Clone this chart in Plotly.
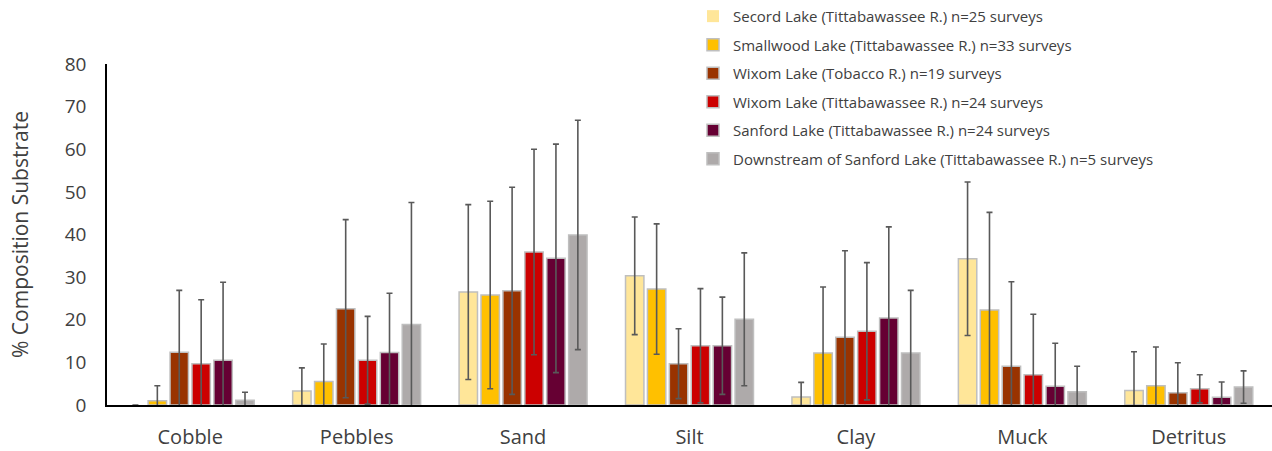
import plotly.graph_objects as go

categories = ["Cobble", "Pebbles", "Sand", "Silt", "Clay", "Muck", "Detritus"]

series_names = [
    "Secord Lake (Tittabawassee R.) n=25 surveys",
    "Smallwood Lake (Tittabawassee R.) n=33 surveys",
    "Wixom Lake (Tobacco R.) n=19 surveys",
    "Wixom Lake (Tittabawassee R.) n=24 surveys",
    "Sanford Lake (Tittabawassee R.) n=24 surveys",
    "Downstream of Sanford Lake (Tittabawassee R.) n=5 surveys",
]

secord = [0, 3.3, 26.5, 30.3, 1.9, 34.3, 3.4]
smallwood = [1.0, 5.5, 25.8, 27.2, 12.2, 22.3, 4.5]
wixom_tobacco = [12.4, 22.6, 26.8, 9.7, 15.9, 9.1, 2.9]
wixom_titt = [9.7, 10.5, 35.9, 13.9, 17.3, 7.1, 3.8]
sanford = [10.5, 12.3, 34.4, 13.9, 20.4, 4.4, 1.8]
downstream = [1.1, 18.9, 39.9, 20.1, 12.2, 3.1, 4.2]

secord_err = [None, 5.4, 20.5, 13.8, 3.4, 18.0, 9.1]
smallwood_err = [3.5, 8.8, 22.0, 15.3, 15.5, 22.9, 9.1]
wixom_tobacco_err = [14.5, 20.9, 24.3, 8.2, 20.3, 19.8, 7.0]
wixom_titt_err = [15.0, 10.3, 24.1, 13.4, 16.1, 14.2, 3.3]
sanford_err = [18.3, 13.9, 26.8, 11.4, 21.4, 10.1, 3.6]
downstream_err = [1.9, 28.6, 26.9, 15.6, 14.7, 6.0, 3.8]

values = [secord, smallwood, wixom_tobacco, wixom_titt, sanford, downstream]
errors = [secord_err, smallwood_err, wixom_tobacco_err, wixom_titt_err, sanford_err, downstream_err]
colors = ["#FFE699", "#FFC000", "#993300", "#CC0000", "#660033", "#AEAAAA"]

FONT = "Open Sans"
TXT = "#404040"

fig = go.Figure()
for i, (name, vals, errs, col) in enumerate(zip(series_names, values, errors, colors)):
    line_w = [0 if v == 0 else 1.5 for v in vals]
    fig.add_trace(go.Bar(
        x=categories, y=vals, name=name,
        marker=dict(color=col, line=dict(color="#BFBFBF", width=line_w)),
        error_y=dict(type="data", array=errs, symmetric=True, color="#595959",
                     thickness=1.6, width=3),
        legendgroup=f"g{i}",
    ))

fig.update_layout(
    width=1272, height=451,
    margin=dict(l=107, r=0, t=64, b=46, autoexpand=False),
    paper_bgcolor="white", plot_bgcolor="white",
    barmode="group", bargap=0.21, bargroupgap=0.16,
    font=dict(family=FONT, color=TXT),
    legend=dict(
        x=0.503, y=1.188, xanchor="left", yanchor="top",
        traceorder="grouped", tracegroupgap=6,
        font=dict(family=FONT, size=15, color=TXT),
        bgcolor="rgba(0,0,0,0)",
    ),
    showlegend=True,
)
fig.update_yaxes(
    range=[0, 80], dtick=10, showgrid=False, zeroline=False,
    showline=True, linecolor="black", linewidth=1.5,
    ticks="", ticklabelstandoff=15, automargin=False,
    tickfont=dict(family=FONT, size=19, color=TXT),
    title=dict(text="% Composition Substrate", standoff=30,
               font=dict(family=FONT, size=21, color=TXT)),
)
fig.update_xaxes(
    showgrid=False, showline=True, linecolor="black", linewidth=1.5,
    ticks="", ticklabelstandoff=13, automargin=False,
    tickfont=dict(family=FONT, size=20, color=TXT),
)

fig.write_html(
    "out.html",
    config={"displayModeBar": False},
    post_script="document.body.style.margin='0';document.body.style.padding='0';",
)
